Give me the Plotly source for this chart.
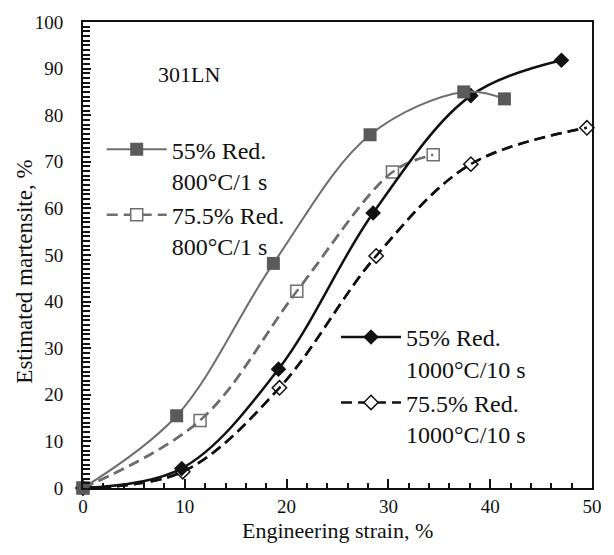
import plotly.graph_objects as go

# Engineering strain (%) and estimated martensite (%) for each condition
strain_55_800 = [0, 9.2, 18.7, 28.2, 37.4, 41.4]
mart_55_800 = [0, 15.5, 48.2, 75.8, 85.0, 83.5]

strain_755_800 = [0, 11.5, 21.0, 30.4, 34.4]
mart_755_800 = [0, 14.5, 42.2, 67.8, 71.5]

strain_55_1000 = [0, 9.7, 19.2, 28.5, 38.1, 47.0]
mart_55_1000 = [0, 4.2, 25.5, 59.0, 84.2, 91.8]

strain_755_1000 = [0, 9.8, 19.3, 28.8, 38.1, 49.5]
mart_755_1000 = [0, 3.5, 21.5, 49.8, 69.5, 77.3]

names = [
    "55% Red.<br>800°C/1 s",
    "75.5% Red.<br>800°C/1 s",
    "55% Red.<br>1000°C/10 s",
    "75.5% Red.<br>1000°C/10 s",
]

FONT = "Liberation Serif"
GRAY = "#6e6e6e"
GRAY_FILL = "#5a5a5a"
BLACK = "#111111"

fig = go.Figure()

# 75.5% Red., 1000°C/10 s : open diamonds, black dashed curve
fig.add_trace(go.Scatter(
    x=strain_755_1000, y=mart_755_1000, name=names[3], legend="legend2", legendrank=4,
    mode="lines+markers", line=dict(color=BLACK, width=2.5, dash="11px,6px", shape="spline"),
    marker=dict(symbol="diamond", size=11, color="white", line=dict(color=BLACK, width=1.5)),
    cliponaxis=False,
))
fig.add_trace(go.Scatter(
    x=strain_755_1000, y=mart_755_1000, showlegend=False, hoverinfo="skip",
    mode="lines", line=dict(color=BLACK, width=2.5, dash="11px,6px", shape="spline"),
))

# 75.5% Red., 800°C/1 s : open squares, gray dashed curve
fig.add_trace(go.Scatter(
    x=strain_755_800, y=mart_755_800, name=names[1], legend="legend", legendrank=2,
    mode="lines+markers", line=dict(color=GRAY, width=2.5, dash="11px,6px", shape="spline"),
    marker=dict(symbol="square", size=12, color="white", line=dict(color=GRAY, width=1.5)),
    cliponaxis=False,
))
fig.add_trace(go.Scatter(
    x=strain_755_800, y=mart_755_800, showlegend=False, hoverinfo="skip",
    mode="lines", line=dict(color=GRAY, width=2.5, dash="11px,6px", shape="spline"),
))

# 55% Red., 1000°C/10 s : filled diamonds, black solid curve
fig.add_trace(go.Scatter(
    x=strain_55_1000, y=mart_55_1000, name=names[2], legend="legend2", legendrank=3,
    mode="lines+markers", line=dict(color=BLACK, width=2.5, shape="spline"),
    marker=dict(symbol="diamond", size=12, color=BLACK),
    cliponaxis=False,
))

# 55% Red., 800°C/1 s : filled squares, gray solid curve
fig.add_trace(go.Scatter(
    x=strain_55_800, y=mart_55_800, name=names[0], legend="legend", legendrank=1,
    mode="lines+markers", line=dict(color=GRAY, width=2, shape="spline"),
    marker=dict(symbol="square", size=13, color=GRAY_FILL),
    cliponaxis=False,
))

W, H = 614, 555
ML, MR, MT, MB = 83, 14, 14, 67
PW, PH = W - ML - MR, H - MT - MB

legend_common = dict(
    font=dict(family=FONT, size=24, color=BLACK),
    bgcolor="rgba(0,0,0,0)", borderwidth=0,
    itemwidth=60, valign="top", tracegroupgap=0,
    xanchor="left", yanchor="top", traceorder="normal",
)

fig.update_layout(
    width=W, height=H,
    margin=dict(l=ML, r=MR, t=MT, b=MB),
    paper_bgcolor="white", plot_bgcolor="white",
    font=dict(family=FONT, color=BLACK),
    legend=dict(x=(102 - ML) / PW, y=(488 - 121) / PH, **legend_common),
    legend2=dict(x=(340 - ML) / PW, y=(488 - 312) / PH, **legend_common),
    annotations=[
        dict(text="301LN", x=10.4, y=88.8, xref="x", yref="y",
             showarrow=False, font=dict(family=FONT, size=22, color=BLACK)),
        dict(text="Estimated martensite, %", x=(24 - ML) / PW, y=(488 - 268) / PH,
             xref="paper", yref="paper", xanchor="center", yanchor="middle",
             textangle=-90, showarrow=False,
             font=dict(family=FONT, size=23, color=BLACK)),
        dict(text="Engineering strain, %", x=0.5, y=(488 - 531) / PH,
             xref="paper", yref="paper", xanchor="center", yanchor="middle",
             showarrow=False, font=dict(family=FONT, size=22, color=BLACK)),
    ],
)

fig.update_xaxes(
    range=[0, 50], dtick=10, tick0=0,
    ticks="inside", ticklen=9, tickwidth=1.5, tickcolor=BLACK,
    minor=dict(dtick=2, ticks="inside", ticklen=5, tickwidth=1.5, tickcolor=BLACK),
    showline=True, linewidth=2, linecolor=BLACK, mirror=True,
    showgrid=False, zeroline=False,
    tickfont=dict(family=FONT, size=19, color=BLACK), ticklabelstandoff=0,
)
fig.update_yaxes(
    range=[0, 100], dtick=10, tick0=0,
    ticks="inside", ticklen=8, tickwidth=1.5, tickcolor=BLACK,
    minor=dict(dtick=1, ticks="inside", ticklen=7, tickwidth=1.5, tickcolor=BLACK),
    showline=True, linewidth=2, linecolor=BLACK, mirror=True,
    showgrid=False, zeroline=False,
    tickfont=dict(family=FONT, size=19, color=BLACK), ticklabelstandoff=14,
)

fig.write_html("out.html")
